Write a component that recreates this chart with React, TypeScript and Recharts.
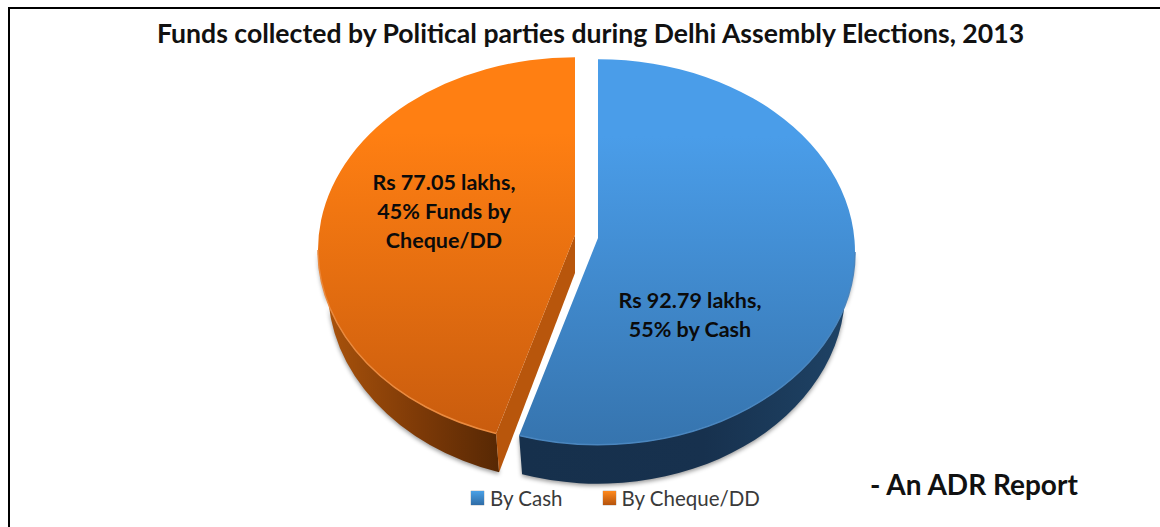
import React from 'react';
import { PieChart, Pie, Legend } from 'recharts';

const categories = ['By Cash', 'By Cheque/DD'];
const fundsLakhs = [92.79, 77.05];
const cashLabel = ['Rs 92.79 lakhs,', '55% by Cash'];
const chequeLabel = ['Rs 77.05 lakhs,', '45% Funds by', 'Cheque/DD'];
const chartTitle = 'Funds collected by Political parties during Delhi Assembly Elections, 2013';
const reportNote = '- An ADR Report';

const data = categories.map((name, i) => ({ name, value: fundsLakhs[i] }));

const FONT = 'Lato, Carlito, sans-serif';
const SQUASH = 0.75; // pie is tilted, so y radius is smaller
const DEPTH = 38;
const FOOT_RX = 0.962; // underside of the pie is a bit narrower (perspective)
const FOOT_RY = 1.005;

const looks: Record<string, any> = {
  'By Cash': {
    id: 'cash', dx: 11.5, dy: 1, apexLift: 14,
    top: ['#4a9de9', '#3674ae'], rim: '#4a86bf',
    side: ['#16304c', '#17314e', '#1f4467'], cut: '#1b3a5c',
    lines: cashLabel, labelX: 690, labelY: 302.5,
    icon: ['#49a0e6', '#2f6ca6'],
  },
  'By Cheque/DD': {
    id: 'cheque', dx: -11.5, dy: -1, apexLift: 15,
    top: ['#ff7f12', '#c95c0e'], rim: '#ea8a3f',
    side: ['#ad550c', '#7e3a07', '#572804'], cut: '#b8560c',
    lines: chequeLabel, labelX: 444, labelY: 184,
    icon: ['#ff8a1e', '#b5530c'],
  },
};

const rad = (deg: number) => (deg * Math.PI) / 180;

// the split between the slices leans a little further in the original's perspective
const lean = (a: number) => {
  const s = Math.sin(rad(a));
  return Math.abs(Math.abs(s) - 1) < 1e-6 ? a : a - 1.2;
};

const Slice3D = (props: any) => {
  const { cx, cy, outerRadius, startAngle, endAngle, name, payload } = props;
  const look = looks[name ?? payload?.name];
  const rx = outerRadius;
  const ry = outerRadius * SQUASH;
  const footRx = rx * FOOT_RX;
  const footRy = ry * FOOT_RY;
  const x0 = cx + look.dx;
  const y0 = cy + look.dy;
  const at = (a: number) => [x0 + rx * Math.cos(rad(a)), y0 - ry * Math.sin(rad(a))];
  const foot = (a: number) => [x0 + footRx * Math.cos(rad(a)), y0 + DEPTH - footRy * Math.sin(rad(a))];
  const apex = [x0, y0 - look.apexLift];
  const from = lean(startAngle);
  const to = lean(endAngle);
  const big = (a: number, b: number) => (Math.abs(a - b) > 180 ? 1 : 0);
  const s = at(from);
  const e = at(to);
  const face = `M${apex} L${s} A${rx} ${ry} 0 ${big(from, to)} 1 ${e} Z`;

  // only the lower half of the rim faces the viewer
  const wallFrom = Math.min(from, 0);
  const wallTo = Math.max(to, -180);
  const w1 = at(wallFrom);
  const w2 = at(wallTo);
  const w3 = foot(wallTo);
  const w4 = foot(wallFrom);
  const wall = `M${w1} A${rx} ${ry} 0 0 1 ${w2} L${w3} A${footRx} ${footRy} 0 0 0 ${w4} Z`;
  const rim = `M${w1} A${rx} ${ry} 0 0 1 ${w2}`;
  const showCut = Math.sin(rad(from)) < 0;
  const cut = `M${apex} L${s} L${foot(from)} L${apex[0]} ${apex[1] + DEPTH} Z`;
  const gapX = look.dx > 0 ? x0 - 1.5 : x0 + 1.5;

  return (
    <g>
      <defs>
        <linearGradient id={`${look.id}-top`} x1="0" y1="0" x2="0" y2="1">
          <stop offset="0" stopColor={look.top[0]} />
          <stop offset="0.2" stopColor={look.top[0]} />
          <stop offset="1" stopColor={look.top[1]} />
        </linearGradient>
        <linearGradient id={`${look.id}-side`} x1="0" y1="0" x2="1" y2="0">
          <stop offset="0" stopColor={look.side[0]} />
          <stop offset="0.55" stopColor={look.side[1]} />
          <stop offset="1" stopColor={look.side[2]} />
        </linearGradient>
        <filter id={`${look.id}-blur`} x="-300%" width="700%">
          <feGaussianBlur stdDeviation="1.3" />
        </filter>
      </defs>
      <line
        x1={gapX}
        y1={y0 - 152}
        x2={gapX}
        y2={y0 - 12}
        stroke="#555"
        strokeOpacity={0.75}
        strokeWidth={3}
        filter={`url(#${look.id}-blur)`}
      />
      <path d={wall} fill={`url(#${look.id}-side)`} style={{ filter: 'drop-shadow(0px 2px 2px rgba(0,0,0,0.4))' }} />
      {showCut && <path d={cut} fill={look.cut} />}
      <path d={face} fill={`url(#${look.id}-top)`} />
      <path d={rim} fill="none" stroke={look.rim} strokeWidth={1.5} />
      {look.lines.map((line: string, i: number) => (
        <text
          key={line}
          x={look.labelX}
          y={look.labelY + i * 29}
          textAnchor="middle"
          dominantBaseline="middle"
          fontFamily={FONT}
          fontWeight={700}
          fontSize={21.5}
          fill="#0b0b0b"
        >
          {line}
        </text>
      ))}
    </g>
  );
};

const LegendRow = ({ payload }: any) => (
  <div style={{ display: 'flex', fontFamily: FONT, fontSize: 20.5, color: '#3a3a3a', lineHeight: '24px' }}>
    {(payload ?? []).map((item: any, i: number) => {
      const look = looks[item.value];
      return (
        <div key={item.value} style={{ display: 'flex', alignItems: 'center', marginRight: i === 0 ? 40 : 0 }}>
          <span
            style={{
              width: 13,
              height: 14,
              marginRight: 6,
              background: `linear-gradient(${look.icon[0]}, ${look.icon[1]})`,
              boxShadow: '0 0 1px #555',
            }}
          />
          {item.value}
        </div>
      );
    })}
  </div>
);

export default function App() {
  return (
    <div style={{ position: 'absolute', left: 0, top: 0, width: 1160, height: 527, overflow: 'hidden', background: '#fff' }}>
      <div
        style={{
          position: 'absolute',
          left: 8,
          top: 7,
          width: 1160,
          height: 540,
          borderLeft: '2.5px solid #000',
          borderTop: '2.5px solid #000',
        }}
      />
      <PieChart
        width={1160}
        height={527}
        margin={{ top: 0, right: 0, bottom: 0, left: 0 }}
        style={{ position: 'absolute', left: 0, top: 0 }}
      >
        <text
          x={590.5}
          y={36}
          textAnchor="middle"
          dominantBaseline="middle"
          fontFamily={FONT}
          fontWeight={700}
          fontSize={26.6}
          fill="#111"
        >
          {chartTitle}
        </text>
        <Pie
          data={data}
          dataKey="value"
          nameKey="name"
          cx={586.5}
          cy={251}
          innerRadius={0}
          outerRadius={257}
          startAngle={90}
          endAngle={-270}
          stroke="none"
          shape={Slice3D}
          isAnimationActive={false}
        />
        <text
          x={870}
          y={488}
          dominantBaseline="middle"
          fontFamily={FONT}
          fontWeight={700}
          fontSize={28}
          fill="#111"
        >
          {reportNote}
        </text>
        <Legend
          content={<LegendRow />}
          wrapperStyle={{ position: 'absolute', left: 471, top: 486, width: 320, bottom: 'auto' }}
        />
      </PieChart>
    </div>
  );
}
